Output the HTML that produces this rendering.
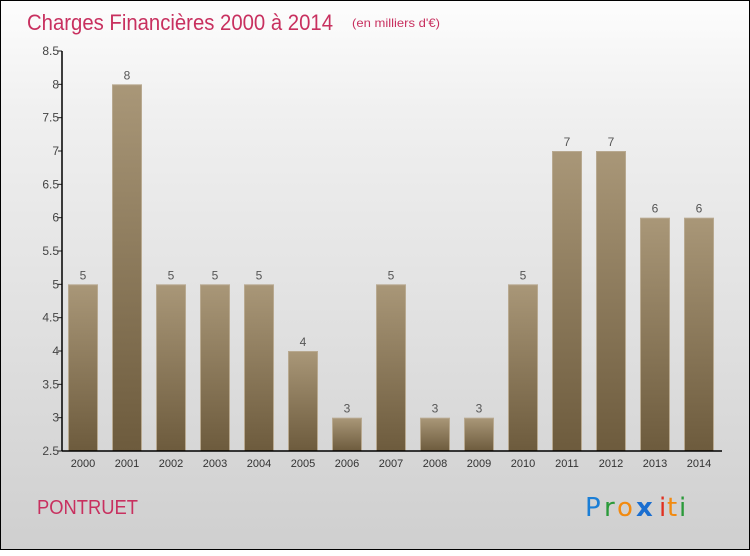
<!DOCTYPE html>
<html><head><meta charset="utf-8"><style>
html,body{margin:0;padding:0}
body{width:750px;height:550px;overflow:hidden;font-family:"Liberation Sans",sans-serif}
#frame{position:absolute;left:0;top:0;width:748px;height:548px;border:1px solid #000;background:linear-gradient(#fdfdfd,#f0f0f0 20%,#e0e0e0 60%,#cfcfcf)}
</style></head><body>
<div id="frame">
<svg width="750" height="550">
<defs><linearGradient id="bg" x1="0" y1="0" x2="0" y2="1"><stop offset="0" stop-color="#a99778"/><stop offset="1" stop-color="#6d5b3d"/></linearGradient></defs>
<text x="26" y="29" font-size="22" fill="#c8305f" textLength="306" lengthAdjust="spacingAndGlyphs">Charges Financières 2000 à 2014</text>
<text x="351" y="26" font-size="12" fill="#c8305f" textLength="88" lengthAdjust="spacingAndGlyphs">(en milliers d'€)</text>
<g id="plot"></g>
<text x="36" y="513" font-size="20" fill="#c8305f" textLength="101" lengthAdjust="spacingAndGlyphs">PONTRUET</text>
<g font-size="26" font-family="DejaVu Sans, sans-serif">
<text x="584" y="515" fill="#1a7ed6">P</text><text x="603" y="515" fill="#2a9a3a">r</text><text x="616" y="515" fill="#f28a10">o</text><text x="635" y="515" fill="#1a6ed0" font-weight="bold">x</text><text x="658" y="515" fill="#e03020">i</text><text x="666" y="515" fill="#f28a10">t</text><text x="678" y="515" fill="#2a9a3a">i</text>
</g>
</svg></div>
<script>
const years=["2000","2001","2002","2003","2004","2005","2006","2007","2008","2009","2010","2011","2012","2013","2014"];
const values=[5,8,5,5,5,4,3,5,3,3,5,7,7,6,6];
const yTicks=[2.5,3,3.5,4,4.5,5,5.5,6,6.5,7,7.5,8,8.5];
const NS="http://www.w3.org/2000/svg";
const g=document.getElementById('plot');
const x0=61,x1=721,yTop=50,yBot=450,vmin=2.5,vmax=8.5;
const y=v=>yBot-(v-vmin)/(vmax-vmin)*(yBot-yTop);
const step=44,bw=30;
const xc=i=>82+i*step;
function mk(t,a){const e=document.createElementNS(NS,t);for(const k in a)e.setAttribute(k,a[k]);g.appendChild(e);return e;}
values.forEach((v,i)=>{
 const r=mk('rect',{x:xc(i)-bw/2+0.5,y:y(v)+0.5,width:bw-1,height:yBot-y(v)-0.5,fill:'url(#bg)',stroke:'#b8a990','stroke-width':1});
 
 
 const t=mk('text',{x:xc(i),y:y(v)-5,'text-anchor':'middle','font-size':12,fill:'#555'});
 t.textContent=v;
 
 
 const xl=mk('text',{x:xc(i),y:466,'text-anchor':'middle','font-size':11,fill:'#333'});
 xl.textContent=years[i];
 
 
});
yTicks.forEach(v=>{
 mk('line',{x1:x0-4,x2:x0,y1:y(v),y2:y(v),stroke:'#222'});
 const t=mk('text',{x:x0-3,y:y(v)+4,'text-anchor':'end','font-size':12,fill:'#444'});
 t.textContent=v;
 
 
});
const ya=mk('line',{x1:x0,x2:x0,y1:yTop,y2:yBot,stroke:'#000','stroke-width':1.5});


const xa=mk('line',{x1:x0,x2:x1,y1:yBot,y2:yBot,stroke:'#000','stroke-width':1.5});


</script>
</body></html>
